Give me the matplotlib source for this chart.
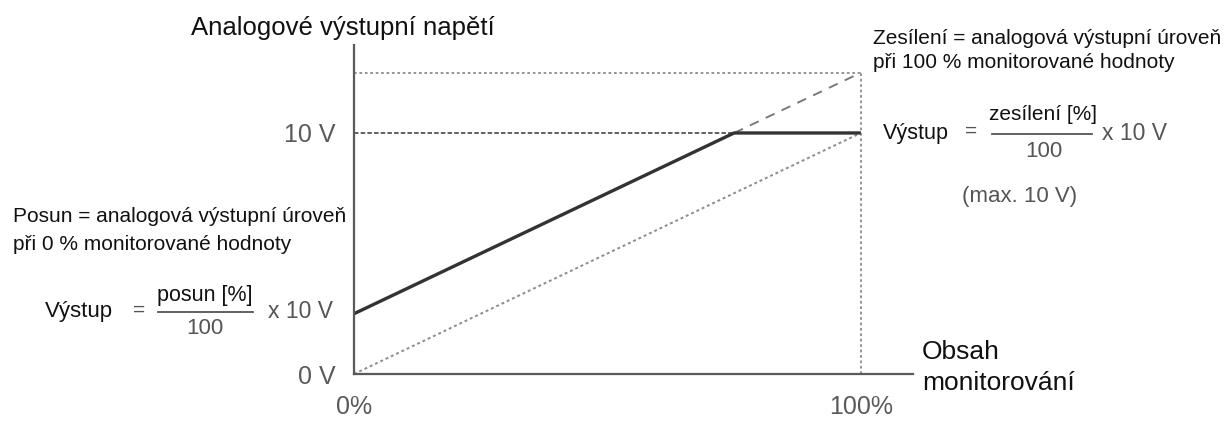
import matplotlib
matplotlib.use("Agg")
import matplotlib.pyplot as plt

plt.rcParams['font.family'] = ['Liberation Sans', 'DejaVu Sans']

# data (monitor value in %, analog output in V)
offset_pct = 25
gain_pct = 125
out_pct = [0, 75, 100]
out_v = [2.5, 10, 10]
gain_pct_line = [75, 100]
gain_v_line = [10, 12.5]
ref_pct = [0, 100]
ref_v = [0, 10]
y_ticks = [0, 10]
y_tick_labels = ['0 V', '10 V']
x_ticks = [0, 100]
x_tick_labels = ['0%', '100%']

W, H = 1228, 424
fig = plt.figure(figsize=(W / 100, H / 100), dpi=100)
# plot area: origin at pixel (354, 374), top at 45, right end at 913
ax = fig.add_axes([354 / W, 1 - 374 / H, (913 - 354) / W, (374 - 45) / H])
ax.set_xlim(0, 110.3)
ax.set_ylim(0, 13.65)

for s in ['top', 'right']:
    ax.spines[s].set_visible(False)
for s in ['left', 'bottom']:
    ax.spines[s].set_color('#5a5a5a')
    ax.spines[s].set_linewidth(1.6)

ax.set_yticks(y_ticks)
ax.set_yticklabels(y_tick_labels)
ax.set_xticks(x_ticks)
ax.set_xticklabels(x_tick_labels)
ax.tick_params(axis='y', length=0, pad=13, labelsize=18, labelcolor='#5a5a5a')
ax.tick_params(axis='x', length=0, pad=15, labelsize=18, labelcolor='#5a5a5a')

# guide lines
top_v = gain_v_line[-1]
ax.plot([0, 100], [top_v, top_v], color='#8c8c8c', lw=1.3, ls=(0, (1.5, 1.5)))
ax.plot([100, 100], [0, top_v], color='#8c8c8c', lw=1.3, ls=(0, (1.5, 1.5)))
ax.plot([0, out_pct[1]], [10, 10], color='#555555', lw=1.3, ls=(0, (2.5, 1.2)))
ax.plot(ref_pct, ref_v, color='#8c8c8c', lw=1.4, ls=(0, (1.5, 1.5)))
ax.plot(gain_pct_line, gain_v_line, color='#7a7a7a', lw=1.4, ls=(0, (5, 4)))
ax.plot(out_pct, out_v, color='#333333', lw=2.4, solid_capstyle='butt')


def px(x, y):
    return x / W, 1 - y / H


tc = '#111111'
gc = '#555555'
fig.text(*px(343, 28), 'Analogové výstupní napětí', fontsize=18.5, color=tc, ha='center', va='center')

fig.text(*px(873, 38), 'Zesílení = analogová výstupní úroveň', fontsize=15, color=tc, va='center')
fig.text(*px(873, 63), 'při 100 % monitorované hodnoty', fontsize=15, color=tc, va='center')

fig.text(*px(13, 217), 'Posun = analogová výstupní úroveň', fontsize=15, color=tc, va='center')
fig.text(*px(13, 244), 'při 0 % monitorované hodnoty', fontsize=15, color=tc, va='center')

# left formula
fig.text(*px(45, 312), 'Výstup', fontsize=16, color=tc, va='center')
fig.text(*px(139, 310), '=', fontsize=15, color=gc, ha='center', va='center')
fig.text(*px(205, 296), 'posun [%]', fontsize=15.5, color=tc, ha='center', va='center')
fig.add_artist(plt.Line2D([158 / W, 253 / W], [1 - 312 / H, 1 - 312 / H], color=gc, lw=1.3))
fig.text(*px(205, 329), '100', fontsize=16, color=gc, ha='center', va='center')
fig.text(*px(301, 312), 'x 10 V', fontsize=16.5, color=gc, ha='center', va='center')

# right formula
fig.text(*px(883, 133), 'Výstup', fontsize=15.5, color=tc, va='center')
fig.text(*px(971, 131), '=', fontsize=15, color=gc, ha='center', va='center')
fig.text(*px(1043, 114), 'zesílení [%]', fontsize=15, color=tc, ha='center', va='center')
fig.add_artist(plt.Line2D([992 / W, 1092 / W], [1 - 134 / H, 1 - 134 / H], color=gc, lw=1.3))
fig.text(*px(1044, 152), '100', fontsize=16, color=gc, ha='center', va='center')
fig.text(*px(1134, 133), 'x 10 V', fontsize=16.5, color=gc, ha='center', va='center')
fig.text(*px(1020, 197), '(max. 10 V)', fontsize=16, color=gc, ha='center', va='center')

fig.text(*px(922, 352), 'Obsah', fontsize=19, color=tc, va='center')
fig.text(*px(922, 383), 'monitorování', fontsize=19, color=tc, va='center')

fig.savefig('out.png', dpi=100)
